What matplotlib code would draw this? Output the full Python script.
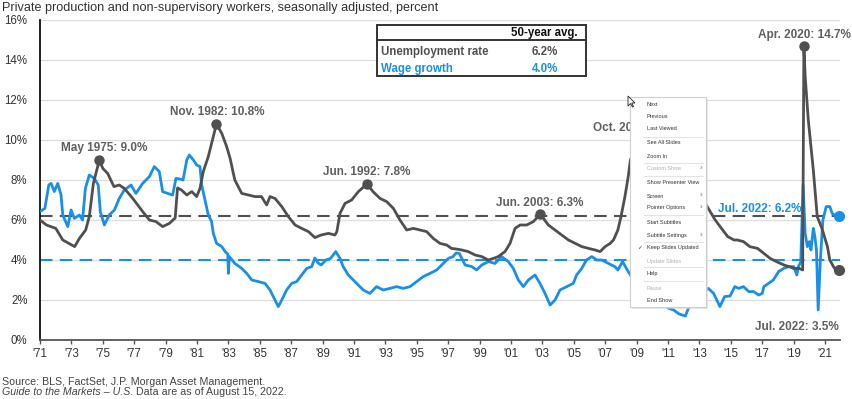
import matplotlib
matplotlib.use("Agg")
import matplotlib.pyplot as plt
from matplotlib.patches import Rectangle, Polygon
from matplotlib.lines import Line2D
from matplotlib.transforms import Bbox, TransformedBbox

plt.rcParams["font.family"] = ["Liberation Sans", "DejaVu Sans"]

# unemployment rate, decimal year / percent
unemp_years = [
    1971.59, 1972.0, 1972.6, 1973.04, 1973.8, 1974.1, 1974.5, 1974.73, 1974.99,
    1975.37, 1975.59, 1975.9, 1976.3, 1976.64, 1976.96, 1977.5, 1978.13, 1978.56,
    1978.98, 1979.4, 1979.83, 1980.2, 1980.35, 1980.6, 1980.94, 1981.26, 1981.57,
    1981.78, 1981.99, 1982.31, 1982.63, 1982.83, 1983.17, 1983.48, 1983.7, 1984.0,
    1984.44, 1984.86, 1985.29, 1985.7, 1986.03, 1986.24, 1986.56, 1986.99, 1987.41,
    1987.84, 1988.26, 1988.69, 1989.1, 1989.5, 1989.96, 1990.38, 1990.5, 1990.7,
    1991.02, 1991.44, 1991.87, 1992.42, 1992.8, 1993.25, 1993.67, 1994.1, 1994.52,
    1994.95, 1995.37, 1995.8, 1996.22, 1996.64, 1997.07, 1997.5, 1997.8, 1998.1,
    1998.46, 1998.87, 1999.3, 1999.73, 2000.15, 2000.47, 2000.78, 2001.21, 2001.53,
    2001.85, 2002.17, 2002.59, 2003.02, 2003.45, 2003.97, 2004.4, 2004.82, 2005.25,
    2005.68, 2006.1, 2006.53, 2006.95, 2007.27, 2007.59, 2007.91, 2008.12, 2008.4,
    2008.6, 2008.85, 2009.06, 2009.2, 2009.45, 2009.75, 2010.2, 2010.7, 2011.2,
    2011.7, 2012.2, 2012.7, 2013.2, 2013.7, 2014.16, 2014.6, 2015.0, 2015.4,
    2015.8, 2016.0, 2016.4, 2016.8, 2017.3, 2017.7, 2018.1, 2018.5, 2018.98,
    2019.3, 2019.6, 2019.95, 2020.17, 2020.25, 2020.33, 2020.53, 2020.85, 2021.1,
    2021.4, 2021.75, 2021.9, 2022.2, 2022.5,
]
unemp_rate = [
    6.0, 5.75, 5.58, 5.0, 4.67, 5.08, 5.5, 6.17, 7.83,
    9.0, 8.58, 8.33, 7.67, 7.75, 7.58, 7.08, 6.42, 6.0,
    5.92, 5.67, 5.83, 6.1, 7.6, 7.5, 7.25, 7.42, 7.17,
    7.58, 8.42, 9.17, 10.17, 10.8, 10.33, 9.67, 9.08, 8.0,
    7.33, 7.25, 7.17, 7.17, 6.75, 7.17, 7.08, 6.67, 6.17,
    5.75, 5.58, 5.42, 5.12, 5.25, 5.33, 5.25, 5.42, 6.33,
    6.83, 7.0, 7.42, 7.8, 7.42, 7.08, 6.92, 6.58, 6.0,
    5.5, 5.58, 5.5, 5.42, 5.08, 4.83, 4.75, 4.58, 4.55,
    4.5, 4.42, 4.25, 4.17, 4.0, 4.08, 4.17, 4.42, 4.83,
    5.58, 5.75, 5.75, 5.92, 6.3, 5.75, 5.5, 5.25, 5.0,
    4.83, 4.67, 4.58, 4.5, 4.42, 4.67, 4.83, 5.0, 5.5,
    6.17, 7.17, 8.17, 9.0, 9.5, 10.0, 9.8, 9.5, 9.0,
    9.0, 8.2, 7.9, 7.6, 7.2, 6.58, 6.0, 5.58, 5.17,
    5.0, 5.0, 4.92, 4.67, 4.58, 4.33, 4.08, 3.92, 3.75,
    3.67, 3.58, 3.58, 3.5, 14.7, 13.2, 11.0, 8.5, 6.17,
    5.58, 4.67, 4.0, 3.58, 3.5,
]

# wage growth, y/y percent
wage_years = [
    1971.59, 1971.9, 1972.15, 1972.3, 1972.5, 1972.72, 1972.93, 1973.04, 1973.36,
    1973.57, 1973.78, 1974.1, 1974.3, 1974.48, 1974.73, 1975.05, 1975.3, 1975.43,
    1975.69, 1976.0, 1976.33, 1976.64, 1976.96, 1977.39, 1977.7, 1978.13, 1978.56,
    1978.87, 1979.19, 1979.4, 1979.72, 1980.04, 1980.25, 1980.5, 1980.7, 1980.94,
    1981.1, 1981.36, 1981.57, 1981.78, 1981.89, 1982.1, 1982.31, 1982.52, 1982.63,
    1982.84, 1983.17, 1983.38, 1983.55, 1983.59, 1983.65, 1984.0, 1984.44, 1984.76,
    1985.08, 1985.5, 1985.92, 1986.24, 1986.56, 1986.77, 1986.99, 1987.3, 1987.62,
    1987.94, 1988.26, 1988.58, 1988.9, 1989.1, 1989.3, 1989.5, 1989.8, 1990.1,
    1990.43, 1990.7, 1990.9, 1991.23, 1991.55, 1991.87, 1992.18, 1992.6, 1993.03,
    1993.46, 1993.88, 1994.3, 1994.73, 1995.16, 1995.58, 1996.0, 1996.43, 1996.86,
    1997.28, 1997.6, 1997.9, 1998.1, 1998.3, 1998.67, 1999.1, 1999.4, 1999.73,
    2000.15, 2000.57, 2001.0, 2001.42, 2001.74, 2002.06, 2002.38, 2002.7, 2003.12,
    2003.44, 2003.76, 2004.08, 2004.4, 2004.71, 2005.14, 2005.56, 2005.77, 2006.1,
    2006.4, 2006.74, 2007.06, 2007.37, 2007.8, 2008.2, 2008.4, 2008.7, 2009.0,
    2009.4, 2009.8, 2010.2, 2010.7, 2011.2, 2011.6, 2011.95, 2012.3, 2012.7,
    2012.9, 2013.3, 2013.7, 2014.16, 2014.5, 2014.9, 2015.2, 2015.55, 2015.85,
    2016.1, 2016.4, 2016.74, 2017.05, 2017.37, 2017.6, 2017.7, 2018.0, 2018.3,
    2018.64, 2018.96, 2019.28, 2019.6, 2019.8, 2019.9, 2020.05, 2020.2, 2020.33,
    2020.47, 2020.6, 2020.7, 2020.85, 2020.95, 2021.05, 2021.16, 2021.3, 2021.46,
    2021.67, 2021.9, 2022.05, 2022.2, 2022.5,
]
wage_growth = [
    6.42, 6.58, 7.75, 7.83, 7.42, 7.83, 7.25, 6.25, 5.67,
    6.5, 6.08, 6.25, 6.0, 7.58, 8.25, 8.08, 7.75, 6.42,
    5.75, 6.25, 6.5, 7.08, 7.5, 7.75, 7.33, 7.83, 8.17,
    8.67, 8.42, 7.42, 7.33, 7.25, 8.08, 8.05, 8.0, 9.0,
    9.25, 9.0, 8.75, 8.67, 7.75, 7.0, 6.25, 5.92, 5.33,
    4.83, 4.67, 4.42, 4.3, 3.33, 4.17, 3.83, 3.58, 3.33,
    3.0, 2.92, 2.83, 2.5, 2.0, 1.67, 2.0, 2.5, 2.83,
    2.92, 3.25, 3.58, 3.67, 4.1, 3.85, 3.75, 4.0, 4.08,
    4.42, 4.08, 3.67, 3.25, 3.0, 2.75, 2.5, 2.33, 2.67,
    2.5, 2.58, 2.67, 2.58, 2.67, 2.92, 3.17, 3.33, 3.5,
    3.83, 4.08, 4.17, 4.35, 4.33, 3.75, 3.67, 3.5, 3.75,
    3.92, 3.83, 4.17, 3.92, 3.58, 3.0, 2.67, 3.0, 3.25,
    2.83, 2.33, 1.75, 2.0, 2.5, 2.67, 2.83, 3.25, 3.58,
    4.0, 4.17, 4.0, 4.0, 3.83, 3.67, 3.5, 3.92, 3.5,
    3.0, 2.6, 2.5, 2.3, 1.9, 1.6, 1.5, 1.3, 1.2,
    1.6, 2.0, 2.3, 2.58, 2.33, 1.67, 2.17, 2.2, 2.67,
    2.58, 2.67, 2.42, 2.42, 2.25, 2.33, 2.67, 2.83, 3.0,
    3.42, 3.58, 3.67, 3.67, 3.25, 3.67, 3.9, 7.75, 5.33,
    4.67, 4.92, 4.5, 5.58, 5.17, 4.5, 1.5, 4.0, 6.0,
    6.67, 6.67, 6.33, 6.25, 6.2,
]

avg_unemp = 6.2
avg_wage = 4.0

# labelled points: (year, value, label)
peaks = [
    (1975.37, 9.0, "May 1975: 9.0%"),
    (1982.83, 10.8, "Nov. 1982: 10.8%"),
    (1992.42, 7.8, "Jun. 1992: 7.8%"),
    (2003.45, 6.3, "Jun. 2003: 6.3%"),
    (2009.75, 10.0, "Oct. 2009: 10.0%"),
    (2020.25, 14.7, "Apr. 2020: 14.7%"),
]

tick_years = list(range(1971, 2022, 2))

GRAY = "#505050"
BLUE = "#1a8fe8"
LABEL_GRAY = "#606060"

W, H = 853, 399


def fx(px):
    return px / W


def fy(py):
    return 1 - py / H


fig = plt.figure(figsize=(W / 100, H / 100), dpi=100)
ax = fig.add_axes([fx(40), fy(340), 800 / W, 320 / H])

ax.plot(unemp_years, unemp_rate, color=GRAY, lw=2.0, zorder=4, solid_joinstyle="round")
ax.plot(wage_years, wage_growth, color=BLUE, lw=2.0, zorder=3, solid_joinstyle="round")

ax.axhline(avg_unemp, color=GRAY, lw=1.5, dashes=(6, 3.5), zorder=2)
ax.axhline(avg_wage, color=BLUE, lw=1.5, dashes=(6, 3.5), zorder=2)

for yr, val, _ in peaks:
    ax.plot(yr, val, "o", color=GRAY, ms=6.5, zorder=5, clip_on=False)
ax.plot(unemp_years[-1], unemp_rate[-1], "o", color=GRAY, ms=7, zorder=5, clip_on=False)
ax.plot(wage_years[-1], wage_growth[-1], "o", color=BLUE, ms=7, zorder=5, clip_on=False)

ann = dict(fontsize=8.5, fontweight="bold", color=LABEL_GRAY, va="center", zorder=6)
ax.text(1975.68, 9.6, peaks[0][2], ha="center", **ann)
ax.text(1982.9, 11.4, peaks[1][2], ha="center", **ann)
ax.text(1992.42, 8.4, peaks[2][2], ha="center", **ann)
ax.text(2003.45, 6.85, peaks[3][2], ha="center", **ann)
oct_label = ax.text(2006.84, 10.6, peaks[4][2], ha="left", **ann)
# the menu hides the rest of this label
oct_label.set_clip_box(TransformedBbox(Bbox([[0, 0], [fx(629), 1]]), fig.transFigure))
ax.text(2020.3, 15.25, peaks[5][2], ha="center", clip_on=False, **ann)
ax.text(2022.5, 0.65, "Jul. 2022: 3.5%", ha="right", **ann)
ann["color"] = BLUE
ax.text(2017.42, 6.55, "Jul. 2022: 6.2%", ha="center", **ann)

ax.set_xlim(1971.59, 2022.55)
ax.set_ylim(0, 16)
ax.set_yticks(range(0, 17, 2))
ax.set_yticklabels([f"{v}%" for v in range(0, 17, 2)])
ax.set_xticks([y + 0.59 for y in tick_years])
ax.set_xticklabels([f"'{y % 100:02d}" for y in tick_years])
ax.tick_params(axis="y", length=0, labelsize=8.3, labelcolor="#333333", pad=9)
ax.tick_params(axis="x", length=3, width=1, color="#555555", labelsize=8.3,
               labelcolor="#333333", pad=3)
ax.grid(axis="y", color="#dedede", lw=0.9)
ax.set_axisbelow(True)
for side in ("top", "right"):
    ax.spines[side].set_visible(False)
ax.spines["left"].set_color("#111111")
ax.spines["left"].set_linewidth(1.3)
ax.spines["bottom"].set_color("#555555")
ax.spines["bottom"].set_linewidth(1.3)

# title and source
fig.text(fx(2), fy(8), "Private production and non-supervisory workers, seasonally adjusted, percent",
         fontsize=9.1, color="#333333", va="center")
fig.text(fx(2), fy(382), "Source: BLS, FactSet, J.P. Morgan Asset Management.",
         fontsize=7.7, color="#444444", va="center")
fig.text(fx(2), fy(392), "Guide to the Markets \u2013 U.S.", fontsize=7.7, color="#444444",
         va="center", style="italic")
fig.text(fx(136), fy(392), "Data are as of August 15, 2022.", fontsize=7.7,
         color="#444444", va="center")

# 50-year average box
fig.patches.append(Rectangle((fx(377), fy(76)), 209 / W, 51 / H, transform=fig.transFigure,
                             facecolor="white", edgecolor="#333333", lw=1.4, zorder=5))
fig.lines.append(Line2D([fx(377), fx(586)], [fy(40), fy(40)], transform=fig.transFigure,
                        color="#333333", lw=1.4, zorder=6))
fig.text(fx(578), fy(33), "50-year avg.", fontsize=8.3, fontweight="bold", color="#111111",
         ha="right", va="center", zorder=7)
fig.text(fx(381), fy(52), "Unemployment rate", fontsize=8.3, fontweight="bold", color=GRAY,
         va="center", zorder=7)
fig.text(fx(558), fy(52), f"{avg_unemp:.1f}%", fontsize=8.3, fontweight="bold", color=GRAY,
         ha="right", va="center", zorder=7)
fig.text(fx(381), fy(69), "Wage growth", fontsize=8.3, fontweight="bold", color=BLUE,
         va="center", zorder=7)
fig.text(fx(558), fy(69), f"{avg_wage:.1f}%", fontsize=8.3, fontweight="bold", color=BLUE,
         ha="right", va="center", zorder=7)

# slide-show context menu lying over the chart
menu_items = [
    ("Next", 104, "on"), ("Previous", 117, "on"), ("Last Viewed", 129, "on"),
    ("See All Slides", 143, "on"), ("Zoom In", 156, "on"), ("Custom Show", 169, "off>"),
    ("Show Presenter View", 183, "on"), ("Screen", 196, "on>"), ("Pointer Options", 208, "on>"),
    ("Start Subtitles", 222, "on"), ("Subtitle Settings", 235, "on>"),
    ("Keep Slides Updated", 248, "check"), ("Update Slides", 261, "off"),
    ("Help", 274, "on"), ("Pause", 288, "off"), ("End Show", 301, "on"),
]
menu_separators = [137, 163, 176, 215, 242, 267, 281]

fig.patches.append(Rectangle((fx(632), fy(309)), 76 / W, 210 / H, transform=fig.transFigure,
                             facecolor="#d8d8d8", edgecolor="none", zorder=19, alpha=0.6))
fig.patches.append(Rectangle((fx(630), fy(307)), 76 / W, 210 / H, transform=fig.transFigure,
                             facecolor="white", edgecolor="#cfcfcf", lw=0.8, zorder=20))
for sy in menu_separators:
    fig.lines.append(Line2D([fx(644), fx(703)], [fy(sy), fy(sy)], transform=fig.transFigure,
                            color="#e4e4e4", lw=0.8, zorder=21))
for label, yy, state in menu_items:
    col = "#b0b0b0" if state.startswith("off") else "#333333"
    fig.text(fx(647), fy(yy), label, fontsize=4.0, color=col, va="center", zorder=22)
    if state.endswith(">"):
        fig.text(fx(701), fy(yy), "\u203a", fontsize=6, color="#777777", va="center",
                 ha="center", zorder=22)
    if state == "check":
        fig.text(fx(640), fy(yy), "\u2713", fontsize=4.4, color="#444444", va="center",
                 ha="center", zorder=22)

# mouse pointer
fig.patches.append(Polygon([(fx(628), fy(96)), (fx(628), fy(106)), (fx(630.5), fy(103.5)),
                            (fx(632.5), fy(107)), (fx(633.5), fy(106.5)), (fx(631.8), fy(103)),
                            (fx(635), fy(103))],
                           closed=True, transform=fig.transFigure, facecolor="white",
                           edgecolor="#222222", lw=0.6, zorder=23))

fig.savefig("out.png", dpi=100)
